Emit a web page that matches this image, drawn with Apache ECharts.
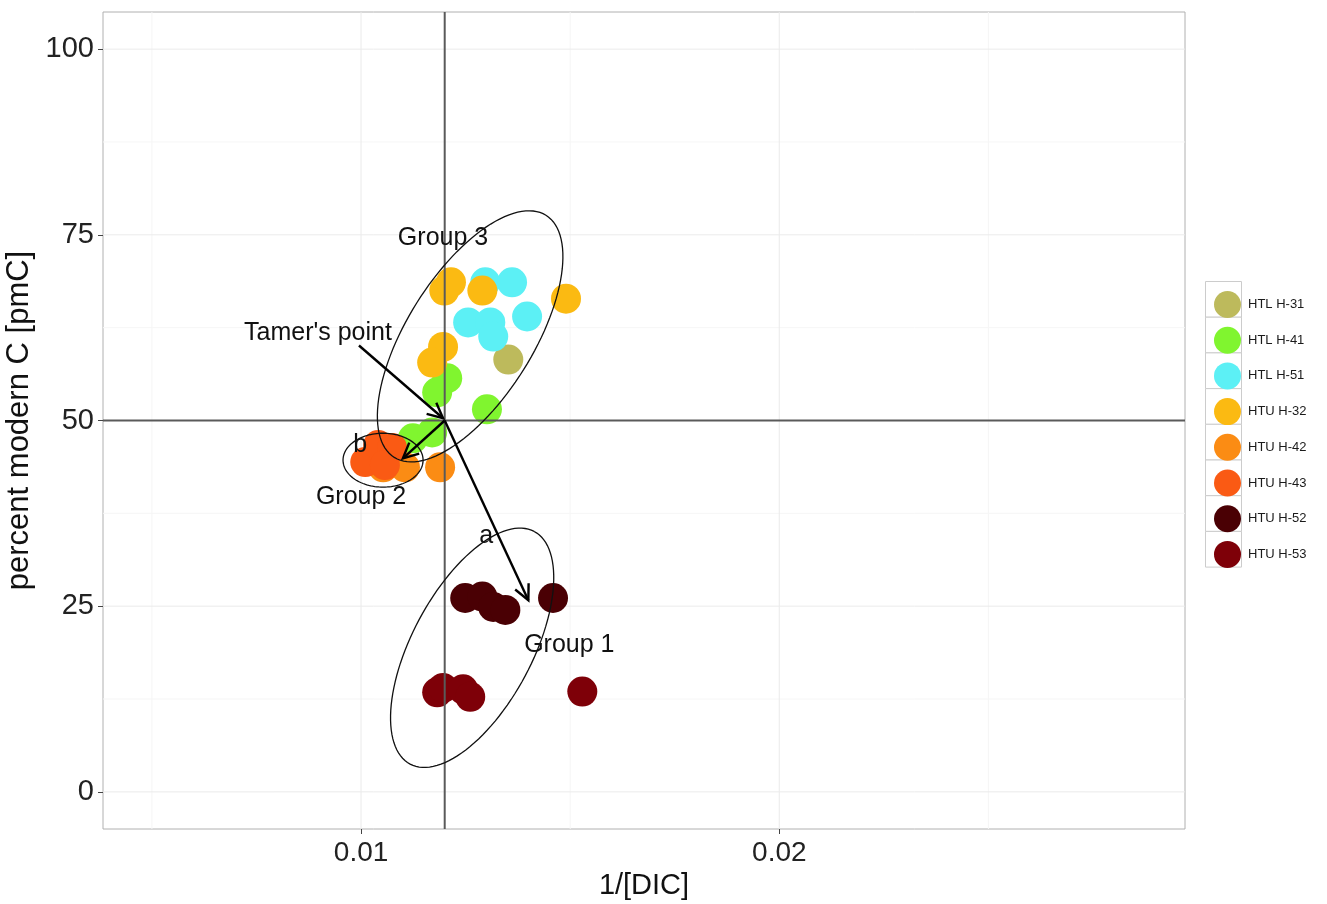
<!DOCTYPE html>
<html>
<head>
<meta charset="utf-8">
<script src="https://cdn.jsdelivr.net/npm/echarts@6/dist/echarts.min.js"></script>
<style>
html,body{margin:0;padding:0;background:#fff;}
#chart{width:1327px;height:904px;}
</style>
</head>
<body>
<div id="chart"></div>
<script>
// ---------- data ----------
const seriesNames = ['HTL H-31','HTL H-41','HTL H-51','HTU H-32','HTU H-42','HTU H-43','HTU H-52','HTU H-53'];
const seriesColors = ['#BDBA5C','#80F52F','#5CF0F5','#FBBA12','#FB8C14','#FA5A14','#4A0004','#7E0008'];

const htl31 = [[0.01352, 58.2]];
const htl41 = [[0.01206, 55.7],[0.01182, 53.8],[0.01301, 51.5],[0.01124, 47.6],[0.01170, 48.4]];
const htl51 = [[0.01297, 68.6],[0.01361, 68.6],[0.01256, 63.2],[0.01309, 63.2],[0.01316, 61.3],[0.01397, 64.0]];
const htu32 = [[0.01199, 67.5],[0.01215, 68.6],[0.01290, 67.5],[0.01490, 66.4],[0.01196, 59.9],[0.01170, 57.8]];
const htu42 = [[0.01189, 43.7],[0.01053, 43.7],[0.01105, 43.7]];
const htu43 = [[0.01010, 44.4],[0.01041, 46.7],[0.01074, 46.3],[0.01057, 44.0]];
const htu52 = [[0.01249, 26.1],[0.01290, 26.3],[0.01316, 24.9],[0.01345, 24.5],[0.01459, 26.1]];
const htu53 = [[0.01182, 13.4],[0.01196, 14.0],[0.01244, 13.8],[0.01261, 12.8],[0.01529, 13.5]];
const seriesData = [htl31, htl41, htl51, htu32, htu42, htu43, htu52, htu53];

const xTicks = [0.01, 0.02];
const xMinorGrid = [0.005, 0.015, 0.025];
const yTicks = [0, 25, 50, 75, 100];
const yMinorGrid = [12.5, 37.5, 62.5, 87.5];
const refX = 0.012;
const refY = 50;

// ellipses: [cx, cy, ux, uy, vx, vy]  (semi-axis vectors in data units)
const ellipses = [
  [0.012608, 61.33, 0.001813, 16.30, 0.001278, -4.49],
  [0.010526, 44.66, 0.000957, 0.0, 0.0, 3.63],
  [0.012656, 19.40, 0.001483, 15.66, 0.001268, -3.79]
];
// arrows: [x1, y1, x2, y2]
const arrows = [
  [0.00995, 60.1, 0.01196, 50.3],
  [0.01200, 50.0, 0.01100, 44.9],
  [0.01200, 50.0, 0.01400, 25.8]
];
// text labels: [text, x, y]
const labels = [
  ['Group 3', 0.01196, 74.6],
  ["Tamer's point", 0.00897, 61.8],
  ['Group 2', 0.01000, 39.7],
  ['Group 1', 0.01498, 19.7],
  ['b', 0.00998, 46.7],
  ['a', 0.01299, 34.4]
];

// ---------- chart ----------
const FONT = '"Liberation Sans", Arial, sans-serif';
const chart = echarts.init(document.getElementById('chart'), null, {renderer: 'canvas'});

function vLine(v, color, width) {
  return {type: 'custom', silent: true, z: 1, data: [[v, 0]], encode: {x: 0, y: 1},
    renderItem: function (params, api) {
      const cs = params.coordSys;
      const x = api.coord([v, 0])[0];
      return {type: 'line', shape: {x1: x, y1: cs.y, x2: x, y2: cs.y + cs.height}, style: {stroke: color, lineWidth: width}};
    }};
}
function hLine(v, color, width) {
  return {type: 'custom', silent: true, z: 1, data: [[0.01, v]], encode: {x: 0, y: 1},
    renderItem: function (params, api) {
      const cs = params.coordSys;
      const y = api.coord([0.01, v])[1];
      return {type: 'line', shape: {x1: cs.x, y1: y, x2: cs.x + cs.width, y2: y}, style: {stroke: color, lineWidth: width}};
    }};
}

const series = [];
xMinorGrid.forEach(v => series.push(vLine(v, '#f6f6f6', 1)));
yMinorGrid.forEach(v => series.push(hLine(v, '#f6f6f6', 1)));
xTicks.forEach(v => series.push(vLine(v, '#ebebeb', 1)));
yTicks.forEach(v => series.push(hLine(v, '#ebebeb', 1)));

seriesNames.forEach((n, i) => {
  series.push({
    type: 'scatter', name: n, data: seriesData[i], symbolSize: 30, z: 2,
    itemStyle: {color: seriesColors[i], opacity: 1}
  });
});
const rv = vLine(refX, '#5a5a5a', 2); rv.z = 5; series.push(rv);
const rh = hLine(refY, '#5a5a5a', 2); rh.z = 5; series.push(rh);

series.push({
  type: 'custom', name: '_ellipse', z: 6, silent: true,
  data: ellipses.map(e => [e[0], e[1]]),
  encode: {x: 0, y: 1},
  renderItem: function (params, api) {
    const e = ellipses[params.dataIndex];
    const pts = [];
    for (let k = 0; k <= 120; k++) {
      const t = k / 120 * 2 * Math.PI;
      pts.push(api.coord([e[0] + e[2] * Math.cos(t) + e[4] * Math.sin(t), e[1] + e[3] * Math.cos(t) + e[5] * Math.sin(t)]));
    }
    return {type: 'polyline', shape: {points: pts}, style: {fill: null, stroke: '#111', lineWidth: 1.3}};
  }
});
series.push({
  type: 'custom', name: '_arrow', z: 7, silent: true,
  data: arrows.map(a => [a[0], a[1], a[2], a[3]]),
  encode: {x: [0, 2], y: [1, 3]},
  renderItem: function (params, api) {
    const a = arrows[params.dataIndex];
    const p1 = api.coord([a[0], a[1]]);
    const p2 = api.coord([a[2], a[3]]);
    const ang = Math.atan2(p2[1] - p1[1], p2[0] - p1[0]);
    const L = 17, w = 0.45;
    const h1 = [p2[0] - L * Math.cos(ang - w), p2[1] - L * Math.sin(ang - w)];
    const h2 = [p2[0] - L * Math.cos(ang + w), p2[1] - L * Math.sin(ang + w)];
    return {type: 'group', children: [
      {type: 'line', shape: {x1: p1[0], y1: p1[1], x2: p2[0], y2: p2[1]}, style: {stroke: '#000', lineWidth: 2.4}},
      {type: 'polyline', shape: {points: [h1, p2, h2]}, style: {stroke: '#000', lineWidth: 2.4, fill: null}}
    ]};
  }
});
series.push({
  type: 'custom', name: '_label', z: 8, silent: true,
  data: labels.map(l => [l[1], l[2]]),
  encode: {x: 0, y: 1},
  renderItem: function (params, api) {
    const l = labels[params.dataIndex];
    const p = api.coord([l[1], l[2]]);
    return {type: 'text', x: p[0], y: p[1], style: {text: l[0], fill: '#111', font: '25px ' + FONT, textAlign: 'center', textVerticalAlign: 'middle', align: 'center', verticalAlign: 'middle'}};
  }
});

// legend key boxes (decoration)
const legendBoxes = [];
for (let i = 0; i < seriesNames.length; i++) {
  legendBoxes.push({type: 'rect', left: 1205, top: 281 + i * 35.7, shape: {width: 36, height: 35.7},
    style: {fill: '#fff', stroke: '#cccccc', lineWidth: 1}, z: -1});
}

chart.setOption({
  animation: false,
  backgroundColor: '#ffffff',
  grid: {left: 103, right: 142, top: 12, bottom: 75, show: true, borderColor: '#b0b0b0', borderWidth: 1,
    backgroundColor: 'transparent', containLabel: false, outerBoundsMode: 'none'},
  xAxis: {
    type: 'value', min: 0.00383, max: 0.0297, position: 'bottom',
    name: '1/[DIC]', nameLocation: 'middle', nameGap: 37,
    nameTextStyle: {fontSize: 29, color: '#111', fontFamily: FONT},
    axisLine: {show: false, onZero: false},
    splitLine: {show: false},
    axisTick: {show: true, length: 5, inside: false, lineStyle: {color: '#444', width: 1}, customValues: xTicks},
    axisLabel: {fontSize: 28, color: '#222', fontFamily: FONT, margin: 10, customValues: xTicks, formatter: v => v.toFixed(2)}
  },
  yAxis: {
    type: 'value', min: -5, max: 105, position: 'left',
    name: 'percent modern C [pmC]', nameLocation: 'middle', nameGap: 64, nameRotate: 90,
    nameTextStyle: {fontSize: 31, color: '#111', fontFamily: FONT},
    axisLine: {show: false, onZero: false},
    splitLine: {show: false},
    axisTick: {show: true, length: 5, inside: false, lineStyle: {color: '#444', width: 1}, customValues: yTicks},
    axisLabel: {fontSize: 29, color: '#222', fontFamily: FONT, margin: 9, customValues: yTicks}
  },
  legend: {
    data: seriesNames.map(n => ({name: n, icon: 'circle'})),
    orient: 'vertical', left: 1209, top: 286,
    itemWidth: 27, itemHeight: 27, itemGap: 8.7,
    textStyle: {fontSize: 13, color: '#1a1a1a', fontFamily: FONT, padding: [0, 0, 0, 2]},
    selectedMode: false
  },
  graphic: legendBoxes,
  series: series
});
</script>
</body>
</html>
